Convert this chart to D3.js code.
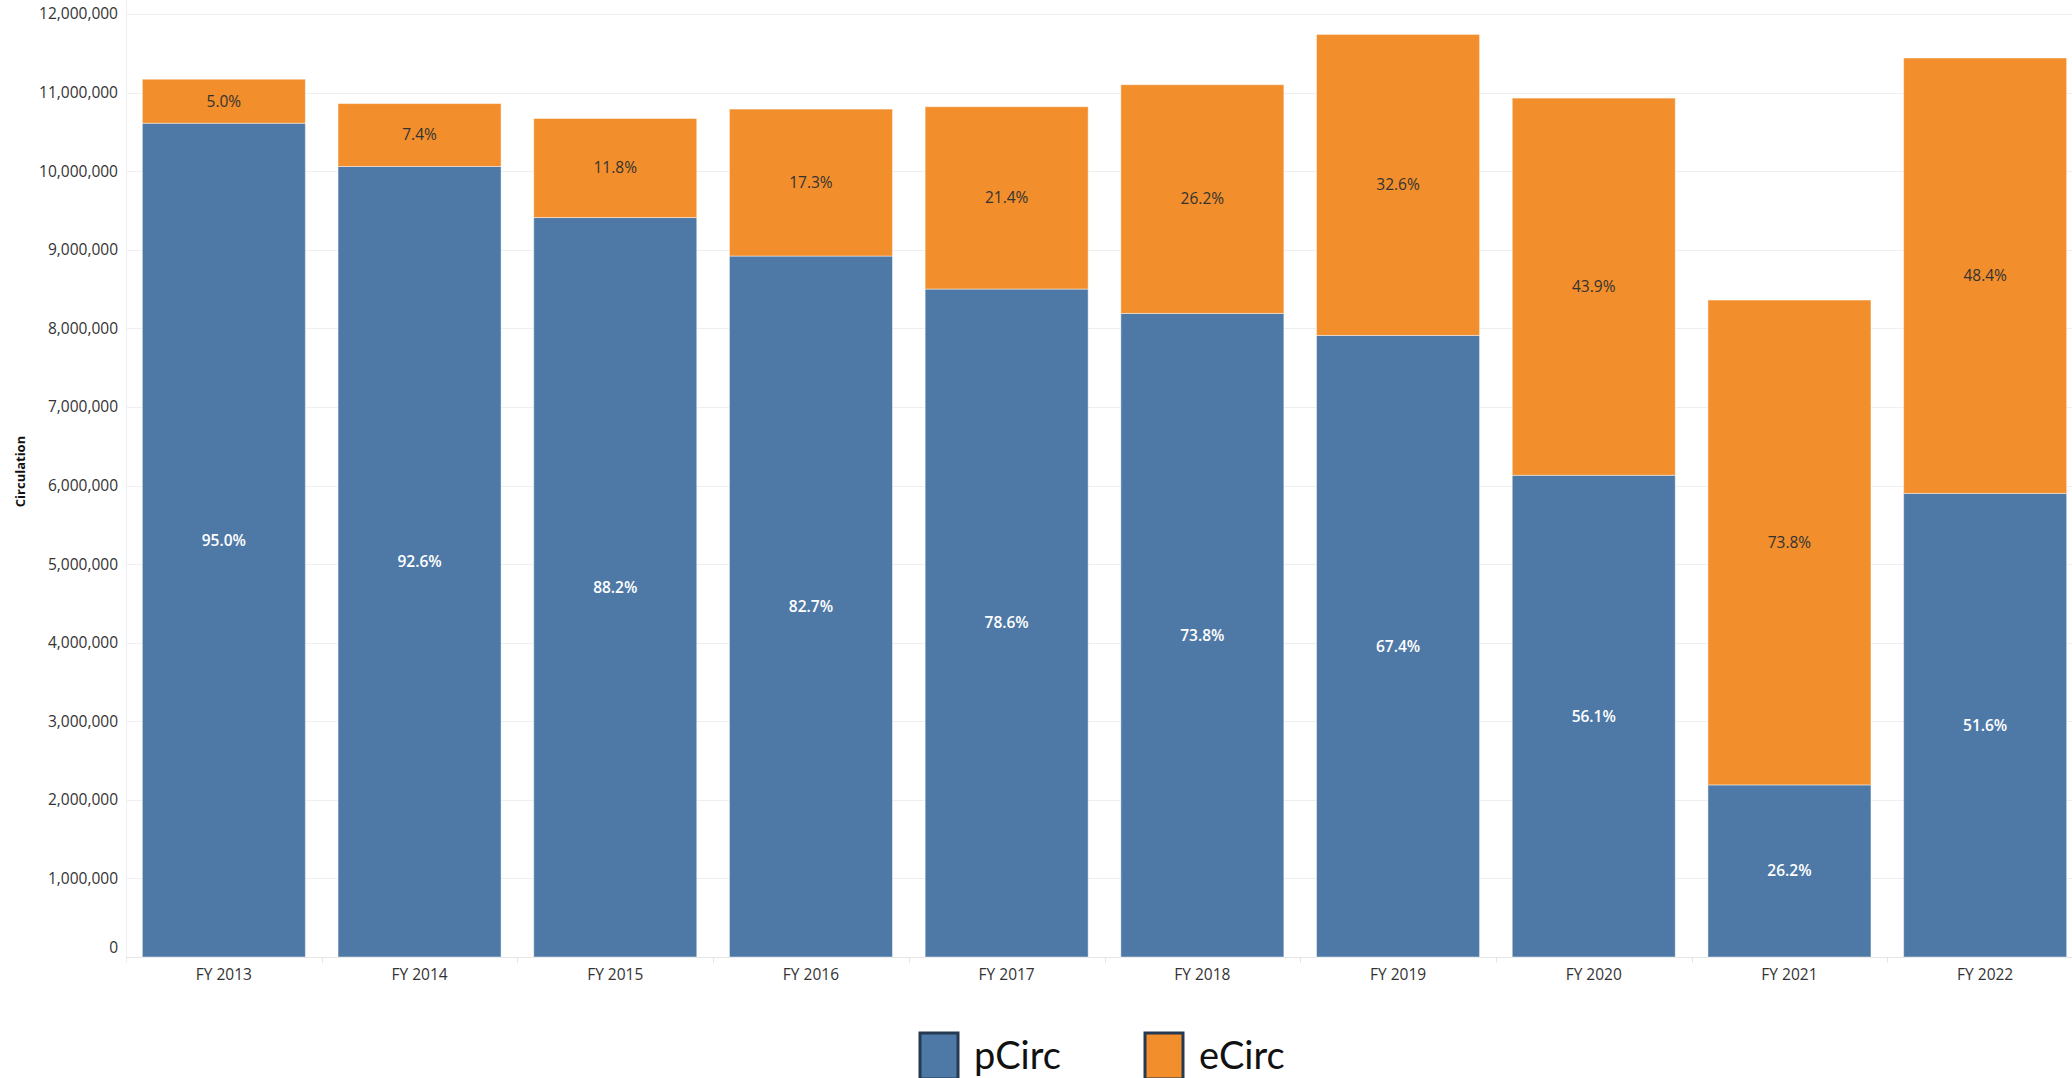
<!DOCTYPE html>
<html>
<head>
<meta charset="utf-8">
<script src="https://cdn.jsdelivr.net/npm/d3@7.9.0/dist/d3.min.js"></script>
<style>
  html, body { margin: 0; padding: 0; background: #fff; overflow: hidden; }
  svg { display: block; font-family: "Open Sans", sans-serif; }
</style>
</head>
<body>
<svg id="chart" width="2072" height="1078"></svg>
<script>
// Data (circulation per fiscal year)
const years = ['FY 2013', 'FY 2014', 'FY 2015', 'FY 2016', 'FY 2017',
               'FY 2018', 'FY 2019', 'FY 2020', 'FY 2021', 'FY 2022'];
const pCirc = [10610000, 10060000, 9410000, 8920000, 8500000,
               8190000, 7910000, 6130000, 2190000, 5900000];
const eCirc = [560000, 800000, 1260000, 1870000, 2320000,
               2910000, 3830000, 4800000, 6170000, 5540000];
const seriesNames = ['pCirc', 'eCirc'];
const seriesColors = ['#4e79a7', '#f28e2b'];
const yTickValues = [0, 1000000, 2000000, 3000000, 4000000, 5000000, 6000000,
                     7000000, 8000000, 9000000, 10000000, 11000000, 12000000];

// ── Layout ─────────────────────────────────────────────────────────────────
const plotLeft = 126, plotRight = 2083, plotTop = 14, plotBottom = 957;

const rows = years.map((yr, i) => ({ year: yr, pCirc: pCirc[i], eCirc: eCirc[i] }));
const stacked = d3.stack().keys(seriesNames)(rows);

const x = d3.scaleBand()
  .domain(years)
  .range([plotLeft, plotRight])
  .paddingInner(0.167)
  .paddingOuter(0.0835);

const y = d3.scaleLinear().domain([0, 12000000]).range([plotBottom, plotTop]);
const color = d3.scaleOrdinal().domain(seriesNames).range(seriesColors);
const pct = d3.format('.1%');

const svg = d3.select('#chart');

// ── Grid + axes ────────────────────────────────────────────────────────────
svg.append('g')
  .selectAll('line')
  .data(yTickValues.filter((d) => d > 0))
  .join('line')
  .attr('x1', plotLeft).attr('x2', 2072)
  .attr('y1', (d) => Math.round(y(d)) + 0.5)
  .attr('y2', (d) => Math.round(y(d)) + 0.5)
  .attr('stroke', '#efefef');

svg.append('line')
  .attr('x1', plotLeft + 0.5).attr('x2', plotLeft + 0.5)
  .attr('y1', 0).attr('y2', plotBottom + 6)
  .attr('stroke', '#eeeeee');

svg.append('line')
  .attr('x1', plotLeft).attr('x2', 2072)
  .attr('y1', plotBottom + 0.5).attr('y2', plotBottom + 0.5)
  .attr('stroke', '#e6e6e6');

// separators between categories on the x axis
svg.append('g')
  .selectAll('line')
  .data(years.slice(1))
  .join('line')
  .attr('x1', (d) => Math.round(x(d) - x.step() * 0.0835) + 0.5)
  .attr('x2', (d) => Math.round(x(d) - x.step() * 0.0835) + 0.5)
  .attr('y1', plotBottom).attr('y2', plotBottom + 6)
  .attr('stroke', '#e6e6e6');

const yAxis = d3.axisLeft(y)
  .tickValues(yTickValues)
  .tickFormat(d3.format(','))
  .tickSize(0)
  .tickPadding(8);

const gy = svg.append('g')
  .attr('transform', `translate(${plotLeft},0)`)
  .call(yAxis);
gy.select('.domain').remove();
gy.selectAll('text')
  .attr('font-family', '"Open Sans", sans-serif')
  .attr('font-size', 15.5)
  .attr('fill', '#333')
  .attr('dy', (d) => (d === 0 ? '-0.3em' : '0.32em'));

const xAxis = d3.axisBottom(x).tickSize(0).tickPadding(12);
const gx = svg.append('g')
  .attr('transform', `translate(0,${plotBottom})`)
  .call(xAxis);
gx.select('.domain').remove();
gx.selectAll('text')
  .attr('font-family', '"Open Sans", sans-serif')
  .attr('font-size', 15.5)
  .attr('fill', '#333');

// y title
svg.append('text')
  .attr('transform', `translate(25,${(plotTop + plotBottom) / 2 - 14}) rotate(-90)`)
  .attr('text-anchor', 'middle')
  .attr('font-size', 13)
  .attr('font-weight', 'bold')
  .attr('fill', '#111')
  .text('Circulation');

// ── Bars ───────────────────────────────────────────────────────────────────
const layers = svg.append('g')
  .selectAll('g')
  .data(stacked)
  .join('g')
  .attr('fill', (d) => color(d.key));

layers.selectAll('rect')
  .data((d) => d)
  .join('rect')
  .attr('x', (d) => x(d.data.year))
  .attr('width', x.bandwidth())
  .attr('y', (d) => y(d[1]))
  .attr('height', (d) => y(d[0]) - y(d[1]))
  .attr('stroke', 'rgba(255,255,255,0.45)')
  .attr('stroke-width', 1);

// percentage labels centered in each segment
layers.selectAll('text')
  .data((d) => d.map((v) => ({ v, key: d.key })))
  .join('text')
  .attr('x', (d) => x(d.v.data.year) + x.bandwidth() / 2)
  .attr('y', (d) => (y(d.v[0]) + y(d.v[1])) / 2)
  .attr('dy', '0.35em')
  .attr('text-anchor', 'middle')
  .attr('font-size', 15.5)
  .attr('font-weight', (d) => (d.key === 'pCirc' ? 600 : 400))
  .attr('fill', (d) => (d.key === 'pCirc' ? '#ffffff' : '#333333'))
  .text((d) => pct((d.v[1] - d.v[0]) / (d.v.data.pCirc + d.v.data.eCirc)));

// ── Legend ─────────────────────────────────────────────────────────────────
const legendX = [920, 1145];
const legend = svg.append('g')
  .selectAll('g')
  .data(seriesNames)
  .join('g')
  .attr('transform', (d, i) => `translate(${legendX[i]},1033)`);

legend.append('rect')
  .attr('width', 38).attr('height', 46)
  .attr('fill', (d) => color(d))
  .attr('stroke', '#253a52')
  .attr('stroke-width', 3);

legend.append('text')
  .attr('x', 54).attr('y', 36)
  .attr('font-family', 'Lato, sans-serif')
  .attr('font-size', 38)
  .attr('fill', '#111')
  .text((d) => d);
</script>
</body>
</html>
